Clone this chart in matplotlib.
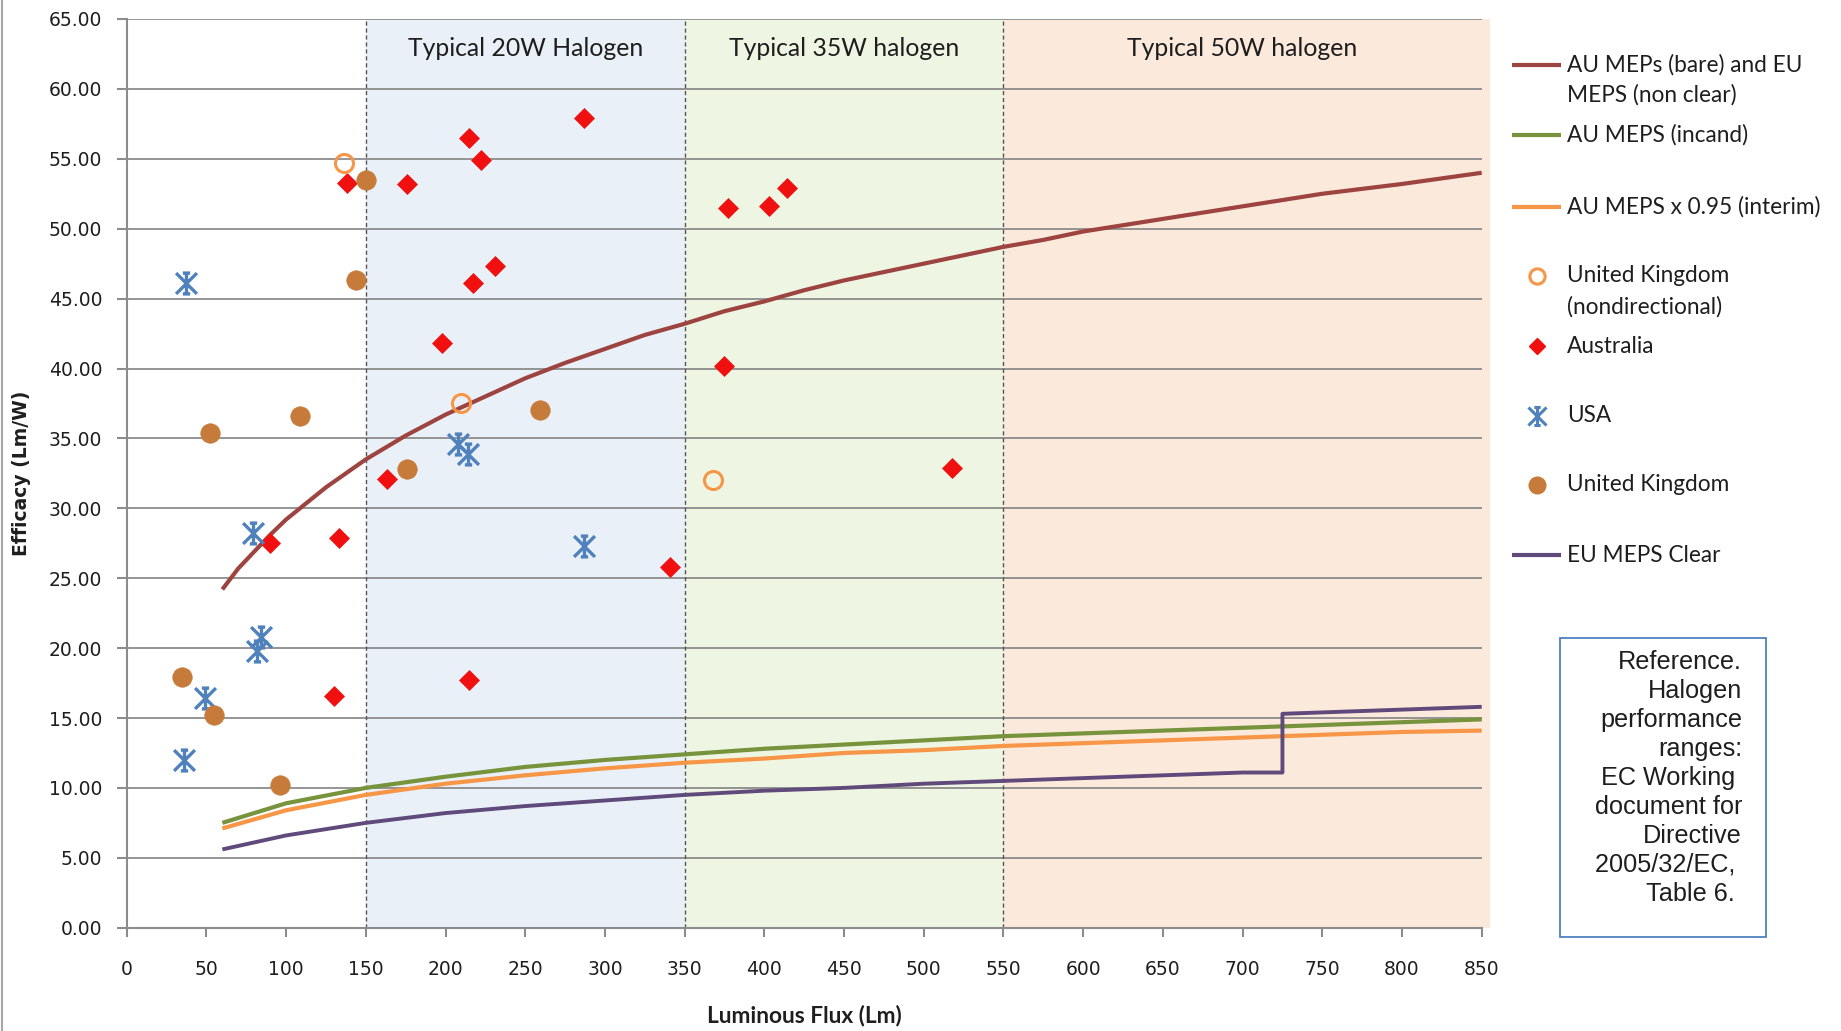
import matplotlib
matplotlib.use("Agg")
import matplotlib.pyplot as plt
from matplotlib.lines import Line2D
from matplotlib.patches import Rectangle
from matplotlib.path import Path

# MEPS curves (efficacy in Lm/W against luminous flux in Lm)
au_bare_flux = [60, 70, 80, 90, 100, 125, 150, 175, 200, 225, 250, 275, 300, 325, 350, 375, 400, 425,
                450, 475, 500, 525, 550, 575, 600, 650, 700, 750, 800, 850]
au_bare_eff = [24.2, 25.7, 26.9, 28.1, 29.2, 31.5, 33.5, 35.2, 36.7, 38.0, 39.3, 40.4, 41.4, 42.4,
               43.2, 44.1, 44.8, 45.6, 46.3, 46.9, 47.5, 48.1, 48.7, 49.2, 49.8, 50.7, 51.6, 52.5, 53.2, 54.0]

meps_flux = [60, 100, 150, 200, 250, 300, 350, 400, 450, 500, 550, 600, 650, 700, 750, 800, 850]
au_incand_eff = [7.5, 8.9, 10.0, 10.8, 11.5, 12.0, 12.4, 12.8, 13.1, 13.4, 13.7, 13.9, 14.1, 14.3, 14.5, 14.7, 14.9]
au_interim_eff = [7.1, 8.4, 9.5, 10.3, 10.9, 11.4, 11.8, 12.1, 12.5, 12.7, 13.0, 13.2, 13.4, 13.6, 13.8, 14.0, 14.1]

eu_clear_flux = [60, 100, 150, 200, 250, 300, 350, 400, 450, 500, 550, 600, 650, 700, 725, 725, 750, 800, 850]
eu_clear_eff = [5.6, 6.6, 7.5, 8.2, 8.7, 9.1, 9.5, 9.8, 10.0, 10.3, 10.5, 10.7, 10.9, 11.1, 11.1, 15.3, 15.4, 15.6, 15.8]

# measured lamps
aus_flux = [287, 215, 222, 138, 176, 217, 231, 198, 163, 90, 133, 130, 215, 341, 377, 403, 414, 375, 518]
aus_eff = [57.9, 56.5, 54.9, 53.3, 53.2, 46.1, 47.3, 41.8, 32.1, 27.5, 27.9, 16.6, 17.7, 25.8, 51.5, 51.6, 52.9, 40.2, 32.9]

usa_flux = [37, 79, 208, 214, 287, 84, 82, 49, 36]
usa_eff = [46.1, 28.2, 34.6, 33.9, 27.3, 20.8, 19.8, 16.4, 12.0]

uk_flux = [150, 144, 52, 109, 259, 176, 35, 55, 96]
uk_eff = [53.5, 46.3, 35.4, 36.6, 37.0, 32.8, 17.9, 15.2, 10.2]

uk_nondir_flux = [136, 210, 368]
uk_nondir_eff = [54.7, 37.5, 32.0]

# halogen performance bands
band_edges = [(150, 350), (350, 550), (550, 855)]
band_labels = ['Typical 20W Halogen', 'Typical 35W halogen', 'Typical 50W halogen']
band_colors = ['#eaf0f8', '#eef6e3', '#fbe9db']

x_ticks = list(range(0, 851, 50))
y_ticks = list(range(0, 66, 5))

W, H = 1841, 1031
C_RED = '#9e4440'
C_GREEN = '#77933c'
C_ORANGE = '#f79646'
C_PURPLE = '#604a7b'
C_BLUE = '#4f81bd'
C_BROWN = '#c67b3a'
C_DIAMOND = '#f01010'
GRID = '#8c8c8c'
TXT = '#1e1e1e'

# Excel style star: X with a vertical bar and small caps
star = Path([(-1, -1), (1, 1), (-1, 1), (1, -1), (0, -1), (0, 1),
             (-0.35, 1), (0.35, 1), (-0.35, -1), (0.35, -1)],
            [Path.MOVETO, Path.LINETO] * 5)


def fx(px):
    return px / W


def fy(py):
    return 1 - py / H


fig = plt.figure(figsize=(W / 100, H / 100), dpi=100)
ax = fig.add_axes([fx(126.7), fy(927.7), (1481.7 - 126.7) / W, (927.7 - 19) / H])

for (x0, x1), col in zip(band_edges, band_colors):
    ax.axvspan(x0, x1, color=col, lw=0, zorder=0, clip_on=False)
for (x0, x1), lab in zip(band_edges, band_labels):
    ax.text((x0 + min(x1, 850)) / 2, 62.9, lab, ha='center', va='center',
            fontsize=17.8, family='Lato', color=TXT, zorder=5)
for x0, _ in band_edges:
    ax.axvline(x0, color='#555555', lw=1.0, ls=(0, (3, 2)), zorder=1)

ax.set_axisbelow(True)
ax.yaxis.grid(True, color=GRID, lw=1.3)

ax.plot(au_bare_flux, au_bare_eff, color=C_RED, lw=3, zorder=3, solid_capstyle='butt')
ax.plot(meps_flux, au_incand_eff, color=C_GREEN, lw=3, zorder=3, solid_capstyle='butt')
ax.plot(meps_flux, au_interim_eff, color=C_ORANGE, lw=3, zorder=3, solid_capstyle='butt')
ax.plot(eu_clear_flux, eu_clear_eff, color=C_PURPLE, lw=2.8, zorder=3, solid_capstyle='butt')

ax.plot(aus_flux, aus_eff, ls='none', marker='D', ms=10, mfc=C_DIAMOND, mec=C_DIAMOND, mew=0.5, zorder=4)
ax.plot(usa_flux, usa_eff, ls='none', marker=star, ms=15, mfc='none', mec=C_BLUE, mew=2.4, zorder=4)
ax.plot(uk_flux, uk_eff, ls='none', marker='o', ms=14, mfc=C_BROWN, mec=C_BROWN, mew=0.5, zorder=4)
ax.plot(uk_nondir_flux, uk_nondir_eff, ls='none', marker='o', ms=13, mfc='none', mec=C_ORANGE, mew=2.2, zorder=4)

ax.set_xlim(0, 850)
ax.set_ylim(0, 65)
ax.set_xticks(x_ticks)
ax.set_yticks(y_ticks)
ax.set_yticklabels(['%.2f' % v for v in y_ticks])
for side in ('top', 'right'):
    ax.spines[side].set_visible(False)
for side in ('left', 'bottom'):
    ax.spines[side].set_color(GRID)
    ax.spines[side].set_linewidth(1.5)
ax.tick_params(axis='both', colors=GRID, width=1.5, labelcolor=TXT, labelsize=13.5)
ax.tick_params(axis='y', length=7, pad=10.5)
ax.tick_params(axis='x', length=6.5, pad=17)

ax.set_ylabel('Efficacy (Lm/W)', fontsize=13.5, fontweight='bold', color=TXT,
              family=['Liberation Sans Narrow', 'DejaVu Sans'])
ax.yaxis.set_label_coords(-0.0705, 0.5)
ax.set_xlabel('Luminous Flux (Lm)', fontsize=16.3, fontweight='bold', color=TXT, family='Lato', va='top')
ax.xaxis.set_label_coords(0.5, -0.085)

# legend laid out down the right margin
line_entry = dict(lw=3, solid_capstyle='butt')
legend_rows = [
    (64.6, ['AU MEPs (bare) and EU', 'MEPS (non clear)'], dict(color=C_RED, **line_entry)),
    (135.0, ['AU MEPS (incand)'], dict(color=C_GREEN, **line_entry)),
    (206.6, ['AU MEPS x 0.95 (interim)'], dict(color=C_ORANGE, **line_entry)),
    (275.9, ['United Kingdom', '(nondirectional)'], dict(marker='o', ms=11, mfc='none', mec=C_ORANGE, mew=2.2)),
    (346.3, ['Australia'], dict(marker='D', ms=8.5, mfc=C_DIAMOND, mec=C_DIAMOND)),
    (415.6, ['USA'], dict(marker=star, ms=13, mfc='none', mec=C_BLUE, mew=2.2)),
    (484.9, ['United Kingdom'], dict(marker='o', ms=12, mfc=C_BROWN, mec=C_BROWN)),
    (555.3, ['EU MEPS Clear'], dict(color=C_PURPLE, **line_entry)),
]
for y, lines, style in legend_rows:
    if 'marker' in style:
        fig.add_artist(Line2D([fx(1537)], [fy(y)], ls='none', **style))
    else:
        fig.add_artist(Line2D([fx(1512), fx(1561)], [fy(y), fy(y)], **style))
    for i, txt in enumerate(lines):
        fig.text(fx(1567), fy(y + i * 30.5), txt, ha='left', va='center',
                 fontsize=16.3, family='Lato', color=TXT)

fig.add_artist(Rectangle((fx(1560), fy(936.9)), (1765.7 - 1560) / W, (936.9 - 637.5) / H,
                         transform=fig.transFigure, fill=False, ec=C_BLUE, lw=1.3))
fig.text(fx(1742), fy(778), 'Reference.\nHalogen\nperformance\nranges:\nEC Working \ndocument for\nDirective\n2005/32/EC, \nTable 6. ',
         ha='right', va='center', multialignment='right', fontsize=18.2,
         family='Liberation Sans', color=TXT, linespacing=1.26)

fig.add_artist(Line2D([fx(1.5), fx(1.5)], [0, 1], color='#a6a6a6', lw=1.5))

fig.savefig('out.png', dpi=100)
